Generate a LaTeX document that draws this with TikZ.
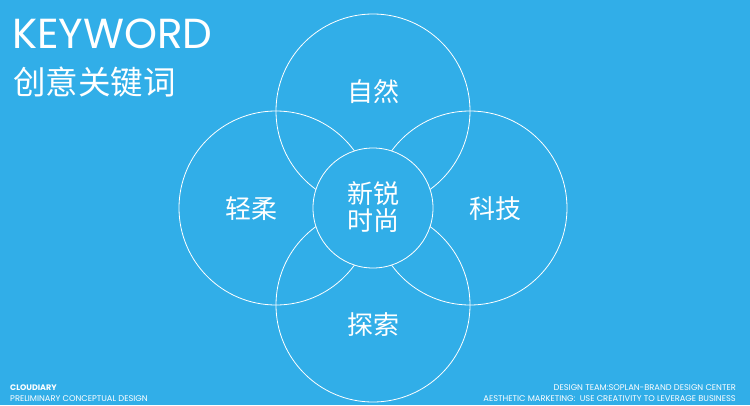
\documentclass[tikz,border=0pt]{standalone}
\usepackage{fontspec}
\setmainfont{Poppins}
\newfontfamily\cjk{Noto Sans CJK SC}
\definecolor{bg}{HTML}{31AEE8}
\begin{document}
\begin{tikzpicture}[x=1pt,y=-1pt,
  ring/.style={draw=white,line width=0.8pt},
  cjklabel/.style={text=white,font=\cjk\fontsize{26}{30}\selectfont,inner sep=0pt},
  foot/.style={text=white,font=\fontsize{8.3}{10}\selectfont,inner sep=0pt}]
\fill[bg] (0,0) rectangle (750,405);
\useasboundingbox (0,0) rectangle (750,405);
\draw[ring] (373,111) circle (97);
\draw[ring] (276,208) circle (97);
\draw[ring] (470,208) circle (97);
\draw[ring] (373,305) circle (97);
\node[ring,fill=bg,circle,minimum size=120pt,inner sep=0pt] (core) at (373,208) {};
\node[cjklabel,align=center,font=\cjk\fontsize{26}{27}\selectfont] (c) at (373,207) {新锐\\时尚};
\node[cjklabel] (top) at (373,92) {自然};
\node[cjklabel] (left) at (251,209) {轻柔};
\node[cjklabel] (right) at (495,209) {科技};
\node[cjklabel] (bottom) at (373,325) {探索};
\node[text=white,font=\fontsize{42}{44}\selectfont,anchor=base west,inner sep=0pt] (kw) at (12,48) {KEYWORD};
\node[text=white,font=\cjk\fontsize{32.5}{34}\selectfont,anchor=west,inner sep=0pt] (kwc) at (13,82) {创意关键词};
\node[foot,font=\bfseries\fontsize{8}{10}\selectfont,anchor=base west] (f1) at (10,390) {CLOUDIARY};
\node[foot,anchor=base west] (f2) at (10,401) {PRELIMINARY CONCEPTUAL DESIGN};
\node[foot,anchor=base east] (f3) at (736,390) {DESIGN TEAM:SOPLAN-BRAND DESIGN CENTER};
\node[foot,anchor=base east] (f4) at (736,401) {AESTHETIC MARKETING:\ \ USE CREATIVITY TO LEVERAGE BUSINESS};
\end{tikzpicture}
\end{document}
